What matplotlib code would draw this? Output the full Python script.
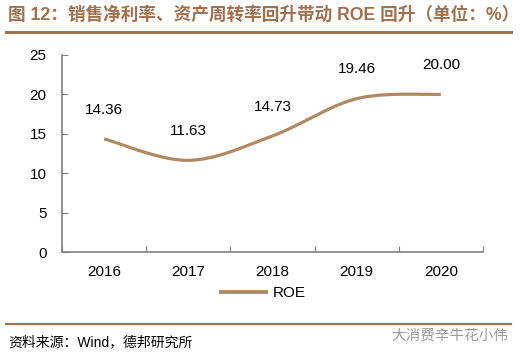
import numpy as np
import matplotlib
matplotlib.use("Agg")
import matplotlib.pyplot as plt
from matplotlib.lines import Line2D

years = ["2016", "2017", "2018", "2019", "2020"]
roe = [14.36, 11.63, 14.73, 19.46, 20.00]
labels = ["14.36", "11.63", "14.73", "19.46", "20.00"]
yticks = [0, 5, 10, 15, 20, 25]

title = "图 12：销售净利率、资产周转率回升带动 ROE 回升（单位：%）"
source = "资料来源：Wind，德邦研究所"
watermark = "大消费辛牛花小伟"

FAM = ["Liberation Sans", "Noto Sans CJK SC", "DejaVu Sans"]
plt.rcParams["font.family"] = FAM

line_color = "#AD8A62"
brown = "#A0714F"

def smooth(xs, ys, n=40):
    P = np.column_stack([xs, ys]).astype(float)
    m = len(P)
    out = []
    for i in range(m - 1):
        p0 = P[i - 1] if i > 0 else P[i]
        p1 = P[i]
        p2 = P[i + 1]
        p3 = P[i + 2] if i + 2 < m else P[i + 1]
        c1 = p1 + (p2 - p0) / 6.0
        c2 = p2 - (p3 - p1) / 6.0
        t = np.linspace(0, 1, n)[:, None]
        seg = ((1 - t) ** 3) * p1 + 3 * ((1 - t) ** 2) * t * c1 + 3 * (1 - t) * t ** 2 * c2 + t ** 3 * p2
        out.append(seg if i == 0 else seg[1:])
    arr = np.vstack(out)
    return arr[:, 0], arr[:, 1]

W, H = 527, 359
fig = plt.figure(figsize=(W / 100, H / 100), dpi=100)
ax = fig.add_axes([62 / W, 1 - 252 / H, (483 - 62) / W, (252 - 55) / H])

x = np.arange(len(years))
sx, sy = smooth(x, roe)
ax.plot(sx, sy, color=line_color, lw=2.3, solid_capstyle="butt")

for xi, v, lab in zip(x, roe, labels):
    ax.annotate(lab, (xi, v), xytext=(0, 16), textcoords="offset points",
                ha="center", va="bottom", fontsize=11, color="black")

ax.set_xlim(-0.5, len(years) - 0.5)
ax.set_ylim(0, 25)
ax.set_yticks(yticks)
ax.set_yticklabels([str(t) for t in yticks])
ax.set_xticks(np.arange(-0.5, len(years), 1.0))
ax.set_xticklabels([])
ax.set_xticks(x, minor=True)
ax.set_xticklabels(years, minor=True)
ax.tick_params(axis="x", which="major", direction="in", length=4, color="#808080")
ax.tick_params(axis="x", which="minor", length=0, pad=9, labelsize=11)
ax.tick_params(axis="y", direction="in", length=4, color="#808080", pad=11, labelsize=11)
for s in ["top", "right"]:
    ax.spines[s].set_visible(False)
for s in ["left", "bottom"]:
    ax.spines[s].set_color("#808080")
    ax.spines[s].set_linewidth(1.2)

handle = Line2D([], [], color=line_color, lw=2.8)
fig.legend([handle], ["ROE"], loc="center", bbox_to_anchor=(263 / W, 1 - 293 / H),
           frameon=False, fontsize=11, handlelength=3.0, handletextpad=0.4)

fig.text(8 / W, 1 - 15 / H, title, fontsize=12.7, fontweight="bold", color=brown,
         ha="left", va="center")
fig.add_artist(Line2D([6 / W, 511 / W], [1 - 32 / H, 1 - 32 / H], color=brown, lw=2.2))
fig.add_artist(Line2D([6 / W, 511 / W], [1 - 324 / H, 1 - 324 / H], color=brown, lw=1.5))
fig.text(8 / W, 1 - 342 / H, source, fontsize=10, color="black", ha="left", va="center")
fig.text(508 / W, 1 - 336 / H, watermark, fontsize=10.5, color="#9a9a9a", ha="right", va="center")

fig.savefig("out.png", dpi=100)
